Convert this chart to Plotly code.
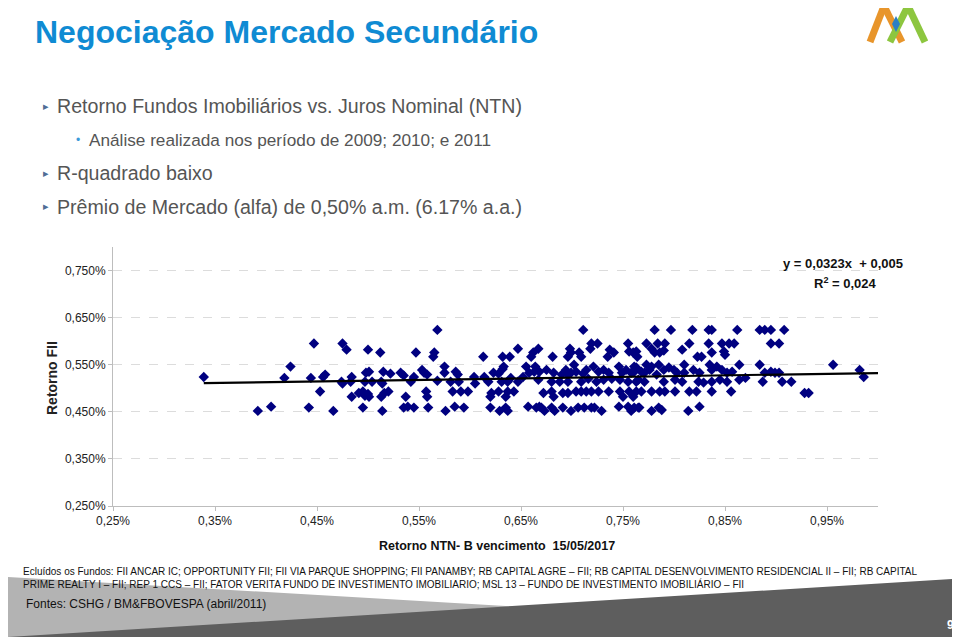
import plotly.graph_objects as go

# ---------------- data ----------------
ntnb_x = [0.339,0.392,0.405,0.418,0.424,0.442,0.444,0.447,0.453,0.456,0.458,0.466,0.474,0.475,0.475,0.479,
          0.483,0.484,0.484,0.491,0.495,0.495,0.497,0.497,0.498,0.500,0.500,0.501,0.501,0.504,0.512,0.513,
          0.513,0.514,0.514,0.515,0.516,0.520,0.522,0.532,0.535,0.535,0.537,0.539,0.542,0.545,0.545,0.547,
          0.553,0.555,0.557,0.558,0.558,0.559,0.564,0.565,0.568,0.568,
          0.575,0.575,0.576,0.581,0.583,0.585,0.586,0.588,0.589,0.591,0.594,0.598,0.604,0.605,0.613,0.614,
          0.618,0.620,0.620,0.621,0.623,0.628,0.628,0.629,0.631,0.632,0.632,0.633,0.635,0.635,0.637,0.637,
          0.637,0.639,0.640,0.643,0.647,0.647,0.652,0.655,0.657,0.658,0.660,0.662,0.664,0.663,0.665,0.667,
          0.667,0.668,0.668,0.670,0.672,0.673,0.675,
          0.680,0.680,0.680,0.681,0.682,0.682,0.683,0.688,0.690,0.691,0.691,0.694,0.696,0.696,0.696,0.696,
          0.698,0.699,0.699,0.699,0.702,0.704,0.704,0.706,0.707,0.709,0.709,0.709,0.711,0.711,0.712,0.714,
          0.714,0.716,0.718,0.719,0.719,0.719,0.721,0.722,0.724,0.725,0.726,0.726,0.729,0.731,0.731,0.735,
          0.736,0.736,0.737,0.739,0.741,0.746,0.746,0.747,0.747,0.749,0.750,0.753,0.755,0.755,0.755,0.756,
          0.756,0.758,0.758,0.760,0.760,0.763,0.764,0.765,0.765,
          0.761,0.761,0.761,0.763,0.763,0.763,0.766,0.768,0.768,0.771,0.771,0.773,0.773,0.776,0.778,0.778,
          0.778,0.778,0.781,0.781,0.783,0.784,0.785,0.785,0.786,0.786,0.788,0.790,0.790,0.790,0.791,0.791,
          0.795,0.797,0.800,0.801,0.801,0.803,0.808,0.808,0.810,0.810,0.814,0.815,0.815,0.818,0.819,0.822,
          0.823,0.824,0.825,0.825,0.827,0.829,0.834,0.834,0.835,0.837,0.837,0.837,0.837,0.837,0.842,0.845,
          0.847,0.847,0.849,0.850,0.852,0.852,0.854,0.856,0.857,0.859,0.862,0.864,0.864,
          0.870,0.884,0.884,0.887,0.889,0.889,0.895,0.895,0.895,0.899,0.903,0.903,0.906,0.908,0.915,0.928,
          0.932,0.956,0.982,0.986]
fii_y = [0.524,0.452,0.461,0.522,0.546,0.459,0.522,0.595,0.493,0.524,0.529,0.452,0.514,0.595,0.510,0.582,
         0.514,0.524,0.482,0.490,0.493,0.459,0.514,0.484,0.533,0.582,0.488,0.535,0.482,0.514,0.576,0.514,
         0.482,0.510,0.452,0.535,0.490,0.493,0.531,0.533,0.527,0.459,0.482,0.461,0.514,0.524,0.459,0.576,
         0.539,0.533,0.493,0.529,0.482,0.459,0.567,0.576,0.624,0.516,
         0.546,0.533,0.452,0.514,0.493,0.461,0.535,0.529,0.514,0.493,0.459,0.493,0.524,0.510,0.567,0.524,
         0.514,0.482,0.459,0.490,0.533,0.531,0.493,0.452,0.514,0.567,0.541,0.546,0.482,0.459,0.514,0.493,
         0.452,0.567,0.522,0.493,0.584,0.514,0.524,0.546,0.461,0.533,0.567,0.576,0.546,0.535,0.459,0.584,
         0.518,0.535,0.461,0.459,0.490,0.452,0.539,
         0.514,0.493,0.459,0.567,0.533,0.482,0.452,0.514,0.529,0.490,0.459,0.539,0.567,0.529,0.514,0.490,
         0.584,0.576,0.533,0.452,0.550,0.535,0.493,0.459,0.576,0.567,0.514,0.493,0.624,0.531,0.459,0.539,
         0.493,0.520,0.584,0.595,0.493,0.459,0.546,0.459,0.514,0.595,0.535,0.493,0.452,0.539,0.518,0.567,
         0.533,0.493,0.582,0.520,0.576,0.546,0.461,0.518,0.493,0.533,0.482,0.539,0.595,0.514,0.461,0.578,
         0.493,0.533,0.452,0.576,0.482,0.544,0.567,0.518,0.459,
         0.546,0.535,0.459,0.578,0.514,0.493,0.459,0.535,0.493,0.533,0.514,0.595,0.550,0.539,0.584,0.546,
         0.493,0.452,0.624,0.576,0.529,0.595,0.550,0.459,0.576,0.493,0.454,0.580,0.539,0.514,0.595,0.493,
         0.544,0.624,0.539,0.518,0.493,0.533,0.582,0.514,0.550,0.533,0.452,0.595,0.493,0.624,0.539,0.493,
         0.567,0.514,0.533,0.461,0.567,0.512,0.624,0.595,0.550,0.624,0.576,0.539,0.514,0.493,0.546,0.518,
         0.595,0.539,0.578,0.571,0.533,0.514,0.595,0.493,0.535,0.595,0.624,0.550,0.518,
         0.522,0.624,0.550,0.514,0.624,0.533,0.624,0.595,0.535,0.533,0.595,0.533,0.514,0.624,0.514,0.490,
         0.490,0.550,0.539,0.524]

slope = 0.0323      # y = 0,0323x + 0,005  (in % units: y% = 0.0323*x% + 0.5)
intercept = 0.5
trend_x = [min(ntnb_x), 1.0]

x_ticks = [0.25, 0.35, 0.45, 0.55, 0.65, 0.75, 0.85, 0.95]
y_ticks = [0.25, 0.35, 0.45, 0.55, 0.65, 0.75]
x_ticktext = [f"{v:.2f}%".replace(".", ",") for v in x_ticks]
y_ticktext = [f"{v:.3f}%".replace(".", ",") for v in y_ticks]

title = "Negociação Mercado Secundário"
bullets = ["Retorno Fundos Imobiliários vs. Juros Nominal (NTN)",
           "R-quadrado baixo",
           "Prêmio de Mercado (alfa) de 0,50% a.m. (6.17% a.a.)"]
sub_bullet = "Análise realizada nos período de 2009; 2010; e 2011"
footnote1 = ("Ecluídos os Fundos: FII ANCAR IC; OPPORTUNITY FII; FII VIA PARQUE SHOPPING; FII PANAMBY; "
             "RB CAPITAL AGRE – FII; RB CAPITAL DESENVOLVIMENTO RESIDENCIAL II – FII; RB CAPITAL")
footnote2 = ("PRIME REALTY I – FII; REP 1 CCS – FII; FATOR VERITA FUNDO DE INVESTIMENTO IMOBILIARIO; "
             "MSL 13 – FUNDO DE INVESTIMENTO IMOBILIÁRIO – FII")
source = "Fontes: CSHG / BM&FBOVESPA (abril/2011)"

# ---------------- layout helpers ----------------
W, H = 960, 637
OFF = 8   # page body margin offset
FONT = "Liberation Sans, Arial, sans-serif"

def px(x):
    return (x - OFF) / W

def py(y):
    return 1 - (y - OFF) / H

fig = go.Figure()

fig.add_trace(go.Scatter(
    x=ntnb_x, y=fii_y, mode="markers",
    marker=dict(symbol="diamond", size=8, color="#000080", line=dict(width=0)),
    showlegend=False, hoverinfo="skip"))

fig.add_trace(go.Scatter(
    x=trend_x, y=[slope * v + intercept for v in trend_x], mode="lines",
    line=dict(color="black", width=2.2), showlegend=False, hoverinfo="skip"))

shapes = []
# bottom decorative bands
shapes.append(dict(type="path", xref="paper", yref="paper", layer="below",
                   path=f"M 0 {py(577)} L 1 {py(633)} L 1 0 L 0 0 Z",
                   fillcolor="#b3b3b3", line=dict(width=0)))
shapes.append(dict(type="path", xref="paper", yref="paper", layer="below",
                   path=f"M 0 {py(637)} L 1 {py(578)} L 1 0 L 0 0 Z",
                   fillcolor="#5e5e5e", line=dict(width=0)))
# logo
for (x0, y0, x1, y1, c) in [(870, 42, 884, 6, "#e8952b"), (884, 6, 902, 42, "#e8952b"),
                            (890, 42, 908, 6, "#8dc63f"), (908, 6, 925, 42, "#8dc63f")]:
    shapes.append(dict(type="line", xref="paper", yref="paper",
                       x0=px(x0), y0=py(y0), x1=px(x1), y1=py(y1),
                       line=dict(color=c, width=7)))
shapes.append(dict(type="path", xref="paper", yref="paper",
                   path=f"M {px(896)} {py(16)} L {px(900)} {py(24)} L {px(896)} {py(32)} L {px(892)} {py(24)} Z",
                   fillcolor="#2a7fc4", line=dict(width=0)))

ann = []
ann.append(dict(text=f"<b>{title}</b>", x=px(33), y=py(32), xref="paper", yref="paper",
                xanchor="left", yanchor="middle", showarrow=False,
                font=dict(family=FONT, size=32, color="#0f8bd3")))
bullet_y = [106, 173, 207]
for t, yy in zip(bullets, bullet_y):
    ann.append(dict(text="▸", x=px(41), y=py(yy), xref="paper", yref="paper",
                    xanchor="left", yanchor="middle", showarrow=False,
                    font=dict(family="DejaVu Sans", size=11, color="#4f6d96")))
    ann.append(dict(text=t, x=px(55), y=py(yy), xref="paper", yref="paper",
                    xanchor="left", yanchor="middle", showarrow=False,
                    font=dict(family=FONT, size=19.6, color="#555555")))
ann.append(dict(text="•", x=px(74), y=py(140), xref="paper", yref="paper",
                xanchor="left", yanchor="middle", showarrow=False,
                font=dict(family=FONT, size=12, color="#3a9ad9")))
ann.append(dict(text=sub_bullet, x=px(87), y=py(140), xref="paper", yref="paper",
                xanchor="left", yanchor="middle", showarrow=False,
                font=dict(family=FONT, size=17.2, color="#555555")))

ann.append(dict(text="<b>Retorno FII</b>", x=px(52), y=py(378), xref="paper", yref="paper",
                xanchor="center", yanchor="middle", textangle=-90, showarrow=False,
                font=dict(family=FONT, size=14, color="#222222")))
ann.append(dict(text="<b>Retorno NTN- B vencimento  15/05/2017</b>", x=px(497), y=py(546),
                xref="paper", yref="paper", xanchor="center", yanchor="middle", showarrow=False,
                font=dict(family=FONT, size=12.5, color="#111111")))
ann.append(dict(text="<b>y = 0,0323x  + 0,005</b>", x=px(843), y=py(263), xref="paper", yref="paper",
                xanchor="center", yanchor="middle", showarrow=False,
                font=dict(family=FONT, size=13, color="#111111")))
ann.append(dict(text="<b>R<sup>2</sup> = 0,024</b>", x=px(845), y=py(283), xref="paper", yref="paper",
                xanchor="center", yanchor="middle", showarrow=False,
                font=dict(family=FONT, size=13, color="#111111")))

ann.append(dict(text=footnote1, x=px(21), y=py(571), xref="paper", yref="paper",
                xanchor="left", yanchor="middle", showarrow=False,
                font=dict(family=FONT, size=10, color="#111111")))
ann.append(dict(text=footnote2, x=px(21), y=py(584), xref="paper", yref="paper",
                xanchor="left", yanchor="middle", showarrow=False,
                font=dict(family=FONT, size=10, color="#111111")))
ann.append(dict(text=source, x=px(24), y=py(604), xref="paper", yref="paper",
                xanchor="left", yanchor="middle", showarrow=False,
                font=dict(family=FONT, size=12, color="#111111")))
ann.append(dict(text="<b>9</b>", x=px(950), y=py(625), xref="paper", yref="paper",
                xanchor="center", yanchor="middle", showarrow=False,
                font=dict(family=FONT, size=12, color="#ffffff")))

fig.update_layout(
    width=W, height=H,
    margin=dict(l=0, r=0, t=0, b=0, pad=0, autoexpand=False),
    paper_bgcolor="white", plot_bgcolor="white",
    showlegend=False,
    font=dict(family=FONT, size=12, color="#222222"),
    shapes=shapes, annotations=ann,
    xaxis=dict(domain=[px(113), px(878)], range=[0.25, 1.0], tickvals=x_ticks,
               ticktext=x_ticktext, showgrid=False, zeroline=False,
               showline=True, linecolor="#bdbdbd", linewidth=1,
               ticks="outside", ticklen=4, tickcolor="#bdbdbd",
               tickfont=dict(family=FONT, size=12, color="#222222")),
    yaxis=dict(domain=[py(506), py(247)], range=[0.25, 0.80], tickvals=y_ticks,
               ticktext=y_ticktext, showgrid=True, gridcolor="#dcdcdc",
               griddash="dash", gridwidth=1, zeroline=False,
               showline=True, linecolor="#bdbdbd", linewidth=1,
               ticks="outside", ticklen=4, tickcolor="#bdbdbd",
               tickfont=dict(family=FONT, size=12, color="#222222")),
)

fig.write_html("out.html")
